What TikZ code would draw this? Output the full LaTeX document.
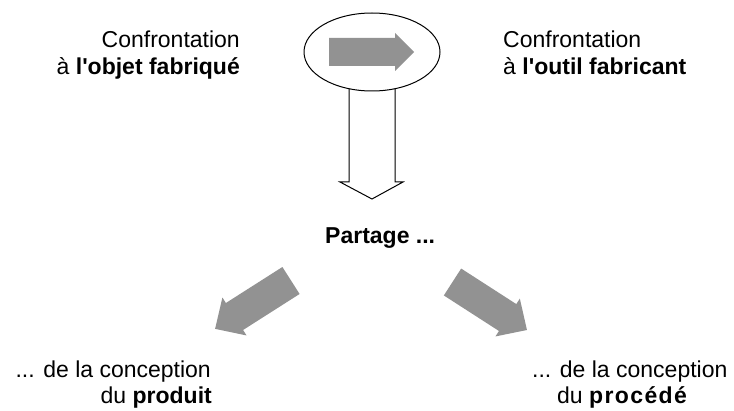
\documentclass[tikz,border=0pt]{standalone}
\usepackage{fontspec}
\setmainfont{Liberation Sans}
\usetikzlibrary{shapes.geometric}

\definecolor{arrowgray}{RGB}{146,146,146}

% filled block arrow: tail centre, angle, length, shaft width, head width, head length
\newcommand\blockarrow[6]{%
  \begin{scope}[shift={#1}, rotate=#2]
    \fill[arrowgray] (0,-#4/2) -- (#3-#6,-#4/2) -- (#3-#6,-#5/2) -- (#3,0)
      -- (#3-#6,#5/2) -- (#3-#6,#4/2) -- (0,#4/2) -- cycle;
  \end{scope}}

\tikzset{
  label/.style={inner sep=0pt, font=\fontsize{23}{26}\selectfont},
  hollow/.style={draw=black, line width=1pt, fill=white, line join=miter},
}

\begin{document}
\begin{tikzpicture}[x=1pt, y=1pt]
  \useasboundingbox (0,0) rectangle (734,410);

  % hollow arrow down from the ellipse
  \draw[hollow] (349,340) -- (349,228) -- (340,228) -- (372,211) -- (403,228)
    -- (395,228) -- (395,340);
  \node[ellipse, hollow, minimum width=136pt, minimum height=78pt, inner sep=0pt]
    (cycle) at (372,358) {};
  \blockarrow{(329,358)}{0}{85}{28}{38}{19}

  % upper captions
  \node[label, anchor=base east] (objA) at (240,362) {Confrontation};
  \node[label, anchor=base east] (objB) at (240,335) {à \textbf{l\textquotesingle objet fabriqué}};
  \node[label, anchor=base west] (toolA) at (503,362) {Confrontation};
  \node[label, anchor=base west] (toolB) at (503,335) {à \textbf{l\textquotesingle outil fabricant}};

  % centre
  \node[label, anchor=base west, font=\fontsize{23}{26}\selectfont\bfseries] (share) at (325,166) {Partage ...};

  % diverging arrows
  \blockarrow{(291,129.5)}{212.5}{90}{32}{45}{23}
  \blockarrow{(452.5,128)}{-32.8}{88.6}{32}{45}{23}

  % lower captions
  \node[label, anchor=base east] (prodA) at (211,33) {... de la conception};
  \node[label, anchor=base east] (prodB) at (212,7) {du \textbf{produit}};
  \node[label, anchor=base west] (procA) at (532,33) {... de la conception};
  \node[label, anchor=base west] (procB) at (557,7) {du \textbf{\addfontfeature{LetterSpace=6}procédé}};
\end{tikzpicture}
\end{document}
